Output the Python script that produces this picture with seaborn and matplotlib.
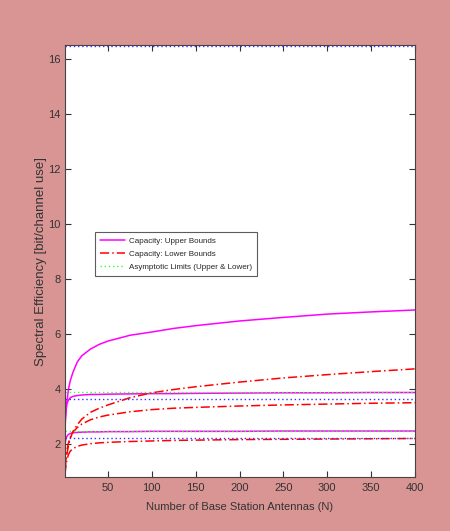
import numpy as np
import pandas as pd
import matplotlib
matplotlib.use("Agg")
import matplotlib.pyplot as plt
import seaborn as sns
from matplotlib.lines import Line2D

N = [1, 2, 3, 5, 7, 10, 15, 20, 30, 40, 50, 75, 100, 125, 150, 200, 250, 300, 350, 400]
upper_a = [2.6, 3.1, 3.5, 4.0, 4.3, 4.6, 4.98, 5.2, 5.45, 5.62, 5.74, 5.95, 6.07, 6.2, 6.3, 6.47, 6.6, 6.72, 6.8, 6.87]
upper_b = [2.8, 3.2, 3.45, 3.6, 3.68, 3.73, 3.76, 3.78, 3.8, 3.8, 3.81, 3.82, 3.83, 3.83, 3.84, 3.85, 3.86, 3.86, 3.87, 3.87]
upper_c = [2.0, 2.18, 2.27, 2.35, 2.38, 2.41, 2.42, 2.43, 2.44, 2.44, 2.45, 2.45, 2.46, 2.46, 2.46, 2.46, 2.47, 2.47, 2.47, 2.47]
lower_a = [1.0, 1.35, 1.6, 1.95, 2.2, 2.45, 2.7, 2.9, 3.15, 3.3, 3.42, 3.68, 3.86, 3.98, 4.08, 4.25, 4.4, 4.52, 4.63, 4.73]
lower_b = [1.2, 1.5, 1.75, 2.05, 2.25, 2.42, 2.6, 2.72, 2.88, 2.98, 3.05, 3.17, 3.25, 3.3, 3.33, 3.38, 3.42, 3.45, 3.48, 3.5]
lower_c = [0.9, 1.2, 1.4, 1.62, 1.74, 1.83, 1.91, 1.96, 2.01, 2.04, 2.06, 2.09, 2.11, 2.13, 2.14, 2.16, 2.17, 2.18, 2.19, 2.2]
asym_green = [3.9, 2.48]
asym_blue = [3.62, 2.2, 16.45]

bg = "#d99594"
sns.set_theme(style="white")
plt.rcParams['font.family'] = ['Liberation Sans', 'DejaVu Sans']

fig = plt.figure(figsize=(4.5, 5.31), dpi=100, facecolor=bg)
ax = fig.add_axes([65/450, 1-477/531, 350/450, 432/531])
ax.set_facecolor("white")

dash_dot = (0, (6, 2, 1, 2))
for ys in [upper_a, upper_b, upper_c]:
    sns.lineplot(x=N, y=ys, ax=ax, color="#ff00ff", lw=1.1, solid_joinstyle="round")
for ys in [lower_a, lower_b, lower_c]:
    sns.lineplot(x=N, y=ys, ax=ax, color="#ff0000", lw=1.1, linestyle=dash_dot)
for v in asym_green:
    ax.axhline(v, color="#33ff33", lw=1.0, linestyle=(0, (1, 2)))
for v in asym_blue:
    ax.axhline(v, color="#3333ff", lw=1.0, linestyle=(0, (1, 2)))

ax.set_xlim(1, 400)
ax.set_ylim(0.8, 16.5)
ax.set_xticks([50, 100, 150, 200, 250, 300, 350, 400])
ax.set_yticks([2, 4, 6, 8, 10, 12, 14, 16])
ax.tick_params(direction="in", length=4, width=0.8, labelsize=8, colors="#333333",
               top=True, right=True, bottom=True, left=True, pad=4)
ax.tick_params(axis="y", pad=3)
for s in ax.spines.values():
    s.set_color("#444444")
    s.set_linewidth(0.8)
ax.set_xlabel("Number of Base Station Antennas (N)", fontsize=8, color="#333333", labelpad=7)
ax.set_ylabel("Spectral Efficiency [bit/channel use]", fontsize=9.5, color="#333333", labelpad=1)

handles = [Line2D([], [], color="#ff00ff", lw=1.1),
           Line2D([], [], color="#ff0000", lw=1.1, linestyle=dash_dot),
           Line2D([], [], color="#33ff33", lw=1.0, linestyle=(0, (1, 2)))]
labels = ["Capacity: Upper Bounds", "Capacity: Lower Bounds", "Asymptotic Limits (Upper & Lower)"]
leg = ax.legend(handles, labels, loc="upper left", bbox_to_anchor=(0.085, 0.567),
                fontsize=5.8, frameon=True, fancybox=False, borderpad=0.6,
                handlelength=3.2, labelspacing=0.7, handletextpad=0.4, borderaxespad=0)
leg.get_frame().set_edgecolor("#333333")
leg.get_frame().set_linewidth(0.8)

fig.savefig("out.png", dpi=100, facecolor=bg)
